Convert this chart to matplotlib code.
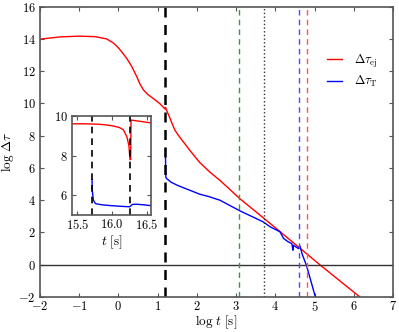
import numpy as np
import matplotlib
matplotlib.use('Agg')
import matplotlib.pyplot as plt
from matplotlib.ticker import FuncFormatter

plt.rcParams['mathtext.fontset'] = 'cm'
plt.rcParams['font.family'] = 'DejaVu Serif'
plt.rcParams['font.size'] = 9

# main panel: log t vs log dtau
ej_logt = [-2.0, -1.5, -1.0, -0.6, -0.3, -0.13, 0.0, 0.1, 0.21, 0.35, 0.47, 0.55, 0.64, 0.75,
           0.89, 1.05, 1.19, 1.2, 1.25, 1.3, 1.37, 1.44, 1.55, 1.72, 1.83, 2.07, 2.34, 2.6,
           3.1, 3.87, 5.14, 6.15]
ej_logtau = [13.98, 14.12, 14.17, 14.14, 14.0, 13.75, 13.45, 13.15, 12.8, 12.25, 11.65, 11.2,
             10.83, 10.55, 10.3, 10.0, 9.65, 9.75, 9.45, 9.17, 8.75, 8.34, 7.95, 7.41, 7.06,
             6.34, 5.72, 5.2, 4.08, 2.55, -0.02, -2.0]

t_logt = [1.2, 1.2, 1.21, 1.23, 1.27, 1.35, 1.52, 2.08, 2.29, 2.59, 3.1, 3.69, 3.87, 4.12,
          4.21, 4.33, 4.42, 4.45, 4.46, 4.59, 4.63, 4.68, 4.8, 5.02]
t_logtau = [7.2, 6.8, 5.42, 5.33, 5.26, 5.1, 4.9, 4.36, 4.23, 3.99, 3.33, 2.65, 2.34, 2.03,
            1.62, 1.41, 1.3, 0.89, 1.2, 0.99, 1.15, 0.68, -0.1, -2.0]

# vertical markers (log t)
vline_black = 1.2
vline_green = 3.08
vline_dotted = 3.72
vline_blue = 4.61
vline_red = 4.80

# inset: t [s] vs log dtau
in_ej_t = [15.43, 15.6, 15.8, 15.9, 16.0, 16.1, 16.16, 16.21, 16.24, 16.255, 16.265, 16.27, 16.55]
in_ej_tau = [9.6, 9.6, 9.58, 9.55, 9.5, 9.42, 9.3, 8.95, 8.5, 7.8, 7.8, 9.79, 9.65]
in_t_t = [15.71, 15.715, 15.73, 15.76, 15.85, 15.98, 16.1, 16.25, 16.29, 16.35, 16.45, 16.55]
in_t_tau = [6.79, 6.2, 5.75, 5.58, 5.52, 5.48, 5.45, 5.42, 5.54, 5.55, 5.52, 5.48]
in_vlines = [15.71, 16.26]

fig = plt.figure(figsize=(3.99, 3.32), dpi=100)
ax = fig.add_axes([0.100, 0.106, 0.885, 0.874])

mathfmt = FuncFormatter(lambda v, p: r'$%g$' % v)
spine_col = '#555555'


def style_axes(a):
    for s in a.spines.values():
        s.set_color(spine_col)
        s.set_linewidth(1.2)
    a.tick_params(direction='in', top=True, right=True, length=3, width=0.8,
                  color=spine_col, labelsize=9, pad=3)
    a.tick_params(axis='x', pad=2)
    a.xaxis.set_major_formatter(mathfmt)
    a.yaxis.set_major_formatter(mathfmt)


ax.plot(ej_logt, ej_logtau, color='red', lw=1.0, label=r'$\Delta\tau_{\rm ej}$')
ax.plot(t_logt, t_logtau, color='blue', lw=1.0, label=r'$\Delta\tau_{\rm T}$')
ax.axhline(0, color='#333333', lw=1.0)
ax.axvline(vline_black, color='black', ls='--', lw=1.8, dashes=(4, 3))
ax.axvline(vline_green, color='#3a9a3a', ls='--', lw=1.0, dashes=(4, 3))
ax.axvline(vline_dotted, color='#333333', ls=':', lw=1.0)
ax.axvline(vline_blue, color='#4a4aff', ls='--', lw=1.0, dashes=(4, 3))
ax.axvline(vline_red, color='#ff5555', ls='--', lw=1.0, dashes=(4, 3))

ax.set_xlim(-2, 7)
ax.set_ylim(-2, 16)
ax.set_xticks(range(-2, 8))
ax.set_yticks(range(-2, 17, 2))
style_axes(ax)
ax.set_xlabel(r'$\log\,t\ [\mathrm{s}]$', fontsize=9.5, labelpad=0)
ax.set_ylabel(r'$\log\,\Delta\tau$', fontsize=9.5, labelpad=2)

ax.legend(loc='upper right', bbox_to_anchor=(0.99, 0.88), frameon=False,
          handlelength=1.2, labelspacing=0.35, handletextpad=1.0, fontsize=9)

# inset
ins = fig.add_axes([0.180, 0.352, 0.199, 0.299])
ins.plot(in_ej_t, in_ej_tau, color='red', lw=1.0)
ins.plot(in_t_t, in_t_tau, color='blue', lw=1.0)
for v in in_vlines:
    ins.axvline(v, color='black', ls='--', lw=1.2, dashes=(4, 3))
ins.set_xlim(15.42, 16.56)
ins.set_ylim(5, 10)
ins.set_xticks([15.5, 16.0, 16.5])
ins.set_yticks([6, 8, 10])
style_axes(ins)
ins.xaxis.set_major_formatter(FuncFormatter(lambda v, p: r'$%.1f$' % v))
ins.set_xlabel(r'$t\ [\mathrm{s}]$', fontsize=9.5, labelpad=1)

fig.savefig('out.png', dpi=100)
